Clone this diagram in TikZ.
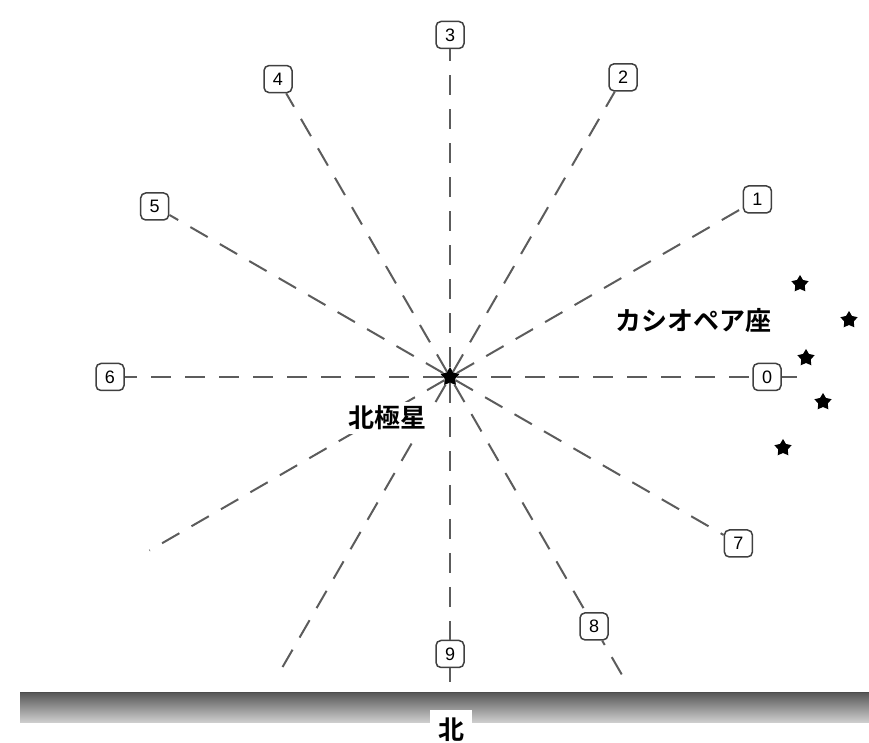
\documentclass[tikz,border=0pt]{standalone}
\usepackage{fontspec}
\setmainfont{Liberation Sans}
\newfontfamily\cjk{Noto Sans CJK JP}[BoldFont={Noto Sans CJK JP Bold}]
\usetikzlibrary{shapes.geometric}
\definecolor{raygray}{HTML}{5C5C5C}
\definecolor{boxgray}{HTML}{404040}
\tikzset{
  ray/.style={draw=raygray, line width=2pt, dash pattern=on 20pt off 14pt},
  num/.style={draw=boxgray, line width=1.5pt, fill=white, rounded corners=5pt,
    minimum width=28pt, minimum height=27pt, inner sep=0pt,
    font=\fontsize{18}{18}\selectfont},
  starmark/.style={star, star points=5, star point ratio=1.8, fill=black,
    minimum size=18pt, inner sep=0pt},
  caption/.style={fill=white, inner sep=4pt, font=\cjk\bfseries\fontsize{26}{26}\selectfont}
}
\begin{document}
\begin{tikzpicture}[x=1pt,y=1pt]
      \useasboundingbox (0,0) rectangle (869,743);
      \node[starmark, minimum size=20pt] (polaris) at (450,366) {};
      \path
        (polaris) ++(0:317pt) node[num] (0) {0}
        (polaris) ++(30:355pt) node[num] (1) {1}
        (polaris) ++(60:346pt) node[num] (2) {2}
        (polaris) ++(90:342pt) node[num] (3) {3}
        (polaris) ++(120:344pt) node[num] (4) {4}
        (polaris) ++(150:341pt) node[num] (5) {5}
        (polaris) ++(180:340pt) node[num] (6) {6}
        (polaris) ++(330:333pt) node[num] (7) {7}
        (polaris) ++(300:288pt) node[num] (8) {8}
        (polaris) ++(270:277pt) node[num] (9) {9};
      \path
        (polaris) ++(0:347pt) coordinate (e0)
        (polaris) ++(210:347pt) coordinate (e10)
        (polaris) ++(240:347pt) coordinate (e11)
        (polaris) ++(270:330pt) coordinate (e9)
        (polaris) ++(300:347pt) coordinate (e8);
      \begin{scope}[ray]
        \draw (polaris) -- (0);
        \draw (polaris) -- (1);
        \draw (polaris) -- (2);
        \draw (polaris) -- (3);
        \draw (polaris) -- (4);
        \draw (polaris) -- (5);
        \draw (polaris) -- (6);
        \draw (polaris) -- (7);
        \draw (polaris) -- (8);
        \draw (polaris) -- (9);
        \draw (polaris) -- (e10);
        \draw (polaris) -- (e11);
        \draw (0) -- (e0);
        \draw[dash phase=15pt] (8) -- (e8);
        \draw[dash phase=6pt] (9) -- (e9);
      \end{scope}
      % stars of the constellation
      \node[starmark] (cas1) at (800,459) {};
      \node[starmark] (cas2) at (849,423) {};
      \node[starmark] (cas3) at (806,385) {};
      \node[starmark] (cas4) at (823,341) {};
      \node[starmark] (cas5) at (783,295) {};
      \node[caption] (cassiopeia) at (693,422) {カシオペア座};
      \node[caption] (polarisname) at (387,325) {北極星};
      % ground
      \shade[top color=black!65, bottom color=black!18] (20,20) rectangle (869,50);
      \draw[black!70, line width=1pt] (20,50) -- (869,50);
      \node[caption, minimum width=42pt, minimum height=40pt, inner sep=0pt] (north) at (451,13) {北};
    \end{tikzpicture}
\end{document}
